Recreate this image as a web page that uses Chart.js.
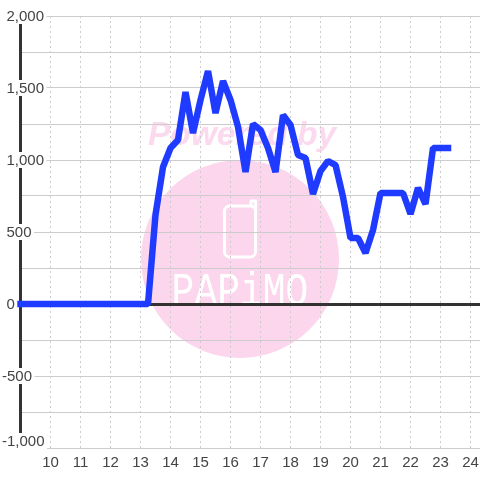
<!DOCTYPE html>
<html>
<head>
<meta charset="utf-8">
<title>Power chart</title>
<script src="https://cdn.jsdelivr.net/npm/chart.js@4"></script>
<style>
  html, body { margin: 0; padding: 0; background: #fff; }
  canvas { display: block; }
</style>
</head>
<body>
<canvas id="powerCanvas" width="480" height="480"></canvas>
<script>
// Time of day in hours, one reading every 15 minutes
const hours = [
  9, 9.25, 9.5, 9.75, 10, 10.25, 10.5, 10.75, 11, 11.25, 11.5, 11.75, 12, 12.25, 12.5, 12.75,
  13, 13.25, 13.5, 13.75, 14, 14.25, 14.5, 14.75, 15, 15.25, 15.5, 15.75, 16, 16.25, 16.5, 16.75,
  17, 17.25, 17.5, 17.75, 18, 18.25, 18.5, 18.75, 19, 19.25, 19.5, 19.75, 20, 20.25, 20.5, 20.75,
  21, 21.25, 21.5, 21.75, 22, 22.25, 22.5, 22.75, 23, 23.25
];
const power = [
  0, 0, 0, 0, 0, 0, 0, 0, 0, 0, 0, 0, 0, 0, 0, 0,
  0, 0, 620, 951, 1083, 1139, 1472, 1187, 1417, 1618, 1326, 1549, 1417, 1230, 917, 1250,
  1208, 1083, 917, 1312, 1243, 1035, 1014, 764, 924, 993, 965, 743, 458, 458, 354, 514,
  771, 771, 771, 771, 625, 806, 694, 1083, 1083, 1083
];
const hourTicks = [10, 11, 12, 13, 14, 15, 16, 17, 18, 19, 20, 21, 22, 23, 24];
const powerTicks = [2000, 1500, 1000, 500, 0, -500, -1000];

const labelFont = '15px "Liberation Sans", Arial, sans-serif';
const labelColor = '#444';

// Pink watermark sits under the grid
const watermark = {
  id: 'watermark',
  beforeDraw(chart) {
    const c = chart.ctx;
    c.save();
    c.fillStyle = '#fbd6ec';
    c.beginPath();
    c.arc(240, 259, 99, 0, Math.PI * 2);
    c.fill();

    c.fillStyle = '#fbd9ee';
    c.font = 'italic bold 33.5px "Liberation Sans", Arial, sans-serif';
    c.textAlign = 'left';
    c.textBaseline = 'alphabetic';
    c.fillText('Powered by', 148, 145);

    // phone outline
    c.strokeStyle = '#fff';
    c.lineWidth = 3;
    c.lineJoin = 'round';
    c.beginPath();
    c.roundRect(224.5, 206, 31, 51, 5);
    c.stroke();
    c.lineCap = 'round';
    c.beginPath();
    c.moveTo(251, 206);
    c.lineTo(251, 201);
    c.lineTo(255.5, 201);
    c.lineTo(255.5, 214);
    c.stroke();

    // logo text is tall and narrow, so stretch it a bit
    c.fillStyle = '#fff';
    c.font = '38px "Liberation Mono", monospace';
    c.textAlign = 'center';
    c.translate(240, 305);
    c.scale(1, 1.2);
    c.fillText('PAPiMO', 0, 0);
    c.restore();
  }
};

// Y labels sit over the axis line on a white patch
const yLabels = {
  id: 'yLabels',
  beforeDatasetsDraw(chart) {
    const c = chart.ctx;
    const scale = chart.scales.y;
    c.save();
    c.font = labelFont;
    c.textAlign = 'left';
    c.textBaseline = 'middle';
    powerTicks.forEach(v => {
      const text = v.toLocaleString('en-US');
      // lowest label is nudged up so it clears the hour labels
      const y = scale.getPixelForValue(v) - (v === -1000 ? 7 : 0);
      const x = v < 0 ? 2 : 6.5;
      c.fillStyle = '#fff';
      c.fillRect(0, y - 8, x + c.measureText(text).width + 2.5, 16);
      c.fillStyle = labelColor;
      c.fillText(text, x, y + 0.5);
    });
    c.restore();
  }
};

const powerChart = new Chart(document.getElementById('powerCanvas').getContext('2d'), {
  type: 'line',
  data: {
    labels: hours,
    datasets: [{
      data: hours.map((h, i) => ({ x: h, y: power[i] })),
      borderColor: '#1f3bff',
      borderWidth: 6.5,
      borderCapStyle: 'square',
      borderJoinStyle: 'bevel',
      pointRadius: 0,
      tension: 0,
      fill: false,
      clip: false
    }]
  },
  options: {
    responsive: false,
    animation: false,
    layout: { padding: { top: 16, left: 0, right: 0, bottom: 0 } },
    plugins: {
      legend: { display: false },
      tooltip: { enabled: false }
    },
    scales: {
      x: {
        type: 'linear',
        min: 8.983,
        max: 24.316,
        // no label margin, the plot runs right up to the canvas edge
        afterFit: scale => {
          scale.height = 32;
          scale.paddingLeft = 0;
          scale.paddingRight = 0;
        },
        afterBuildTicks: scale => {
          scale.ticks = hourTicks.map(h => ({ value: h }));
        },
        ticks: {
          autoSkip: false,
          maxRotation: 0,
          color: labelColor,
          font: { family: '"Liberation Sans", Arial, sans-serif', size: 15 },
          padding: 6
        },
        grid: { color: '#ccc', lineWidth: 1, drawTicks: false },
        border: { display: false, dash: [2, 3] }
      },
      y: {
        min: -1000,
        max: 2000,
        afterFit: scale => { scale.width = 20; },
        ticks: { stepSize: 250, display: false },
        grid: {
          drawTicks: false,
          color: ctx => ctx.tick.value === 0 ? '#333' : '#ccc',
          lineWidth: ctx => ctx.tick.value === 0 ? 3 : 1
        },
        border: { display: true, color: '#333', width: 3 }
      }
    }
  },
  plugins: [watermark, yLabels]
});
</script>
</body>
</html>
